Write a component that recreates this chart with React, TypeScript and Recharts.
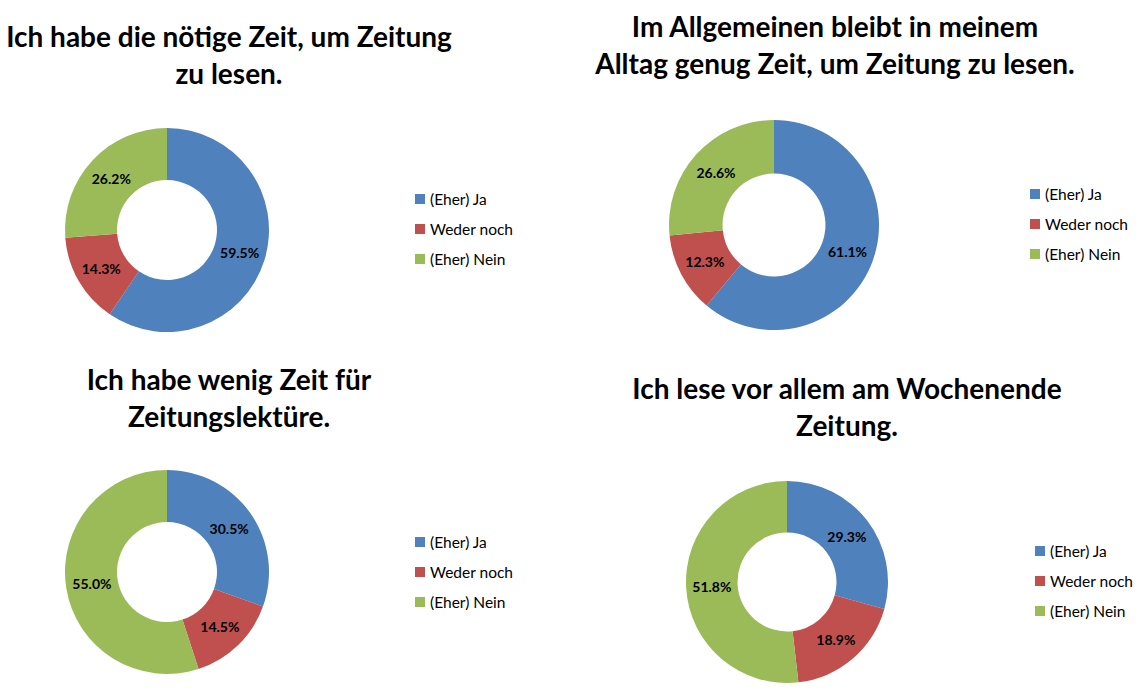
import React from 'react';
import { PieChart, Pie, Cell } from 'recharts';

const COLORS = [
  "#4F81BD", // blue
  "#C0504D", // red
  "#9BBB59", // green
];

const categories = ["(Eher) Ja", "Weder noch", "(Eher) Nein"];

// percentages per question, in category order
const zeitNoetig = [59.5, 14.3, 26.2];
const genugZeit = [61.1, 12.3, 26.6];
const wenigZeit = [30.5, 14.5, 55.0];
const wochenende = [29.3, 18.9, 51.8];

const titles = [
  ["Ich habe die nötige Zeit, um Zeitung", "zu lesen."],
  ["Im Allgemeinen bleibt in meinem", "Alltag genug Zeit, um Zeitung zu lesen."],
  ["Ich habe wenig Zeit für", "Zeitungslektüre."],
  ["Ich lese vor allem am Wochenende", "Zeitung."],
];

const FONT = "Lato, 'Open Sans', sans-serif";
const MARGIN = 5; // recharts default chart margin

// layout of the four panels
const panels = [
  { values: zeitNoetig, cx: 167, cy: 230, r: 102, titleX: 229, titleY: 47, legendX: 415, legendY: 199 },
  { values: genugZeit, cx: 774, cy: 225, r: 105, titleX: 835, titleY: 37, legendX: 1030, legendY: 194 },
  { values: wenigZeit, cx: 167, cy: 572, r: 102, titleX: 229, titleY: 390, legendX: 415, legendY: 542 },
  { values: wochenende, cx: 787, cy: 582, r: 101, titleX: 847, titleY: 399, legendX: 1035, legendY: 551 },
];

const RADIAN = Math.PI / 180;

const renderLabel = (props: any) => {
  const { cx, cy, midAngle, innerRadius, outerRadius, value } = props;
  const rr = (innerRadius + outerRadius) / 2;
  const x = cx + rr * Math.cos(-midAngle * RADIAN);
  const y = cy + rr * Math.sin(-midAngle * RADIAN);
  return (
    <text x={x} y={y} textAnchor="middle" dominantBaseline="central"
      fontFamily={FONT} fontSize={14} fontWeight="bold" fill="#000">
      {value.toFixed(1)}%
    </text>
  );
};

export default function App() {
  return (
    <div style={{ position: 'absolute', left: 0, top: 0, width: 1140, height: 696, background: '#fff' }}>
      <PieChart width={1140} height={696} style={{ position: 'absolute', left: 0, top: 0 }}>
        {panels.map((p, i) => (
          <Pie
            key={`pie-${i}`}
            data={categories.map((name, k) => ({ name, value: p.values[k] }))}
            dataKey="value"
            nameKey="name"
            cx={p.cx - MARGIN}
            cy={p.cy - MARGIN}
            outerRadius={p.r}
            innerRadius={p.r * 0.49}
            startAngle={90}
            endAngle={-270}
            stroke="none"
            label={renderLabel}
            labelLine={false}
            isAnimationActive={false}
          >
            {categories.map((c, k) => (
              <Cell key={`cell-${i}-${k}`} fill={COLORS[k]} />
            ))}
          </Pie>
        ))}
      </PieChart>
      <svg width={1140} height={696} style={{ position: 'absolute', left: 0, top: 0, pointerEvents: 'none' }}>
        {panels.map((p, i) => (
          <g key={`overlay-${i}`}>
            {titles[i].map((line, j) => (
              <text key={`t-${j}`} x={p.titleX} y={p.titleY + j * 37} textAnchor="middle"
                fontFamily={FONT} fontSize={28} fontWeight="bold" fill="#000">
                {line}
              </text>
            ))}
            {categories.map((c, k) => (
              <g key={`l-${k}`}>
                <rect x={p.legendX} y={p.legendY + k * 30 - 5} width={10} height={10} fill={COLORS[k]} />
                <text x={p.legendX + 15} y={p.legendY + k * 30} dominantBaseline="central"
                  fontFamily={FONT} fontSize={15.5} fill="#000">
                  {c}
                </text>
              </g>
            ))}
          </g>
        ))}
      </svg>
    </div>
  );
}
